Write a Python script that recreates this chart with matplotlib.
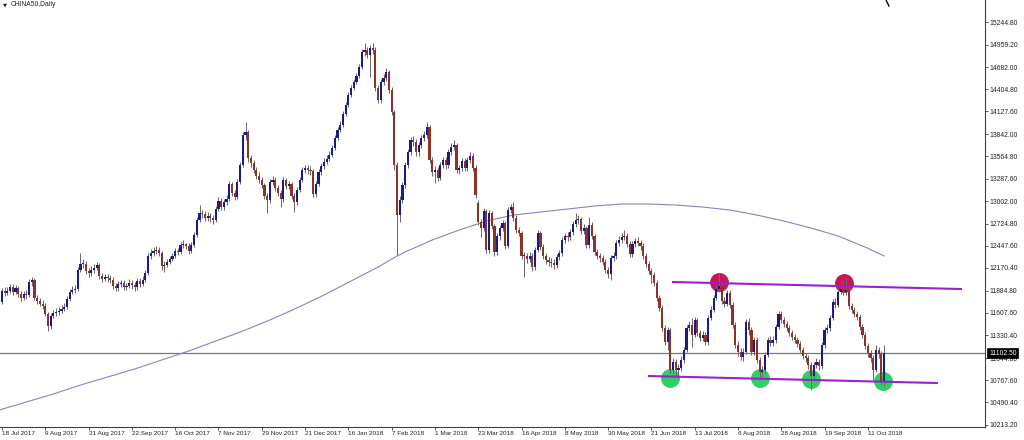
import matplotlib
matplotlib.use("Agg")
import matplotlib.pyplot as plt
import matplotlib.transforms as mtransforms
from matplotlib.lines import Line2D
import numpy as np

# ---------------- data ----------------
symbol_title = "CHINA50,Daily"
date_labels = ["18 Jul 2017", "9 Aug 2017", "31 Aug 2017", "22 Sep 2017", "16 Oct 2017",
               "7 Nov 2017", "29 Nov 2017", "21 Dec 2017", "16 Jan 2018", "7 Feb 2018",
               "1 Mar 2018", "23 Mar 2018", "16 Apr 2018", "8 May 2018", "30 May 2018",
               "21 Jun 2018", "13 Jul 2018", "6 Aug 2018", "28 Aug 2018", "19 Sep 2018",
               "11 Oct 2018"]
price_ticks = [15244.80, 14959.20, 14682.00, 14404.80, 14127.60, 13842.00, 13564.80,
               13287.60, 13002.00, 12724.80, 12447.60, 12170.40, 11884.80, 11607.60,
               11330.40, 11044.80, 10767.60, 10490.40, 10213.20]

closes = [
    11745, 11882, 11857, 11882, 11932, 11870, 11920, 11845, 11795, 11845,
    11832, 11995, 12020, 11795, 11757, 11720, 11695, 11595, 11445, 11570,
    11607, 11620, 11632, 11657, 11682, 11782, 11870, 11895, 11907, 12145,
    12220, 12220, 12132, 12107, 12145, 12170, 12207, 12070, 12032, 12057,
    12045, 12020, 11945, 11920, 11970, 11982, 11932, 11945, 11982, 11957,
    11932, 12007, 11970, 12020, 12107, 12320, 12357, 12382, 12395, 12357,
    12195, 12207, 12245, 12282, 12320, 12382, 12370, 12457, 12470, 12445,
    12382, 12457, 12582, 12770, 12857, 12845, 12795, 12820, 12795, 12770,
    12907, 13007, 12932, 12995, 13032, 13220, 13107, 13057, 13245, 13457,
    13832, 13870, 13545, 13482, 13395, 13320, 13270, 13207, 13070, 13020,
    13245, 13270, 13170, 13107, 13032, 13270, 13195, 13220, 13070, 12995,
    13145, 13270, 13395, 13420, 13395, 13382, 13095, 13220, 13370, 13445,
    13495, 13532, 13582, 13670, 13795, 13895, 13957, 14095, 14207, 14332,
    14420, 14495, 14570, 14682, 14870, 14895, 14832, 14920, 14895, 14420,
    14270, 14495, 14545, 14620, 14395, 14120, 13457, 12832, 13020, 13207,
    13457, 13620, 13770, 13745, 13620, 13707, 13795, 13832, 13932, 13520,
    13370, 13395, 13295, 13457, 13520, 13457, 13620, 13682, 13707, 13395,
    13420, 13507, 13420, 13520, 13570, 13420, 13082, 12745, 12670, 12882,
    12395, 12857, 12695, 12370, 12570, 12670, 12732, 12445, 12895, 12932,
    12795, 12645, 12607, 12320, 12320, 12282, 12320, 12182, 12395, 12607,
    12432, 12320, 12270, 12245, 12232, 12207, 12307, 12357, 12520, 12570,
    12557, 12620, 12720, 12770, 12782, 12632, 12670, 12457, 12707, 12570,
    12370, 12320, 12295, 12245, 12145, 12095, 12295, 12320, 12482, 12520,
    12557, 12570, 12470, 12345, 12470, 12507, 12482, 12445, 12320, 12220,
    12132, 12082, 11982, 11795, 11670, 11420, 11245, 11395, 10895, 10995,
    10895, 10920, 11020, 11145, 11420, 11457, 11332, 11520, 11357, 11295,
    11332, 11245, 11545, 11645, 11795, 11907, 11945, 11757, 11720, 11857,
    11707, 11457, 11207, 11120, 11057, 11120, 11495, 11395, 11120, 11270,
    11020, 10870, 10895, 11082, 11270, 11232, 11270, 11432, 11595, 11520,
    11470, 11420, 11357, 11307, 11270, 11220, 11145, 11070, 11045, 10957,
    10820, 10957, 10995, 10945, 11207, 11395, 11420, 11545, 11745, 11707,
    11870, 11907, 11870, 11895, 11695, 11645, 11595, 11557, 11432, 11332,
    11195, 11107, 11045, 10895, 11145, 11095, 10745, 11102.5]

opens = [
    11820, 11745, 11882, 11857, 11882, 11932, 11870, 11920, 11845, 11795,
    11845, 11832, 11995, 12020, 11795, 11757, 11720, 11695, 11595, 11445,
    11570, 11607, 11620, 11632, 11657, 11682, 11782, 11870, 11895, 11907,
    12145, 12220, 12220, 12132, 12107, 12145, 12170, 12207, 12070, 12032,
    12057, 12045, 12020, 11945, 11920, 11970, 11982, 11932, 11945, 11982,
    11957, 11932, 12007, 11970, 12020, 12107, 12320, 12357, 12382, 12395,
    12357, 12195, 12207, 12245, 12282, 12320, 12382, 12370, 12457, 12470,
    12445, 12382, 12457, 12582, 12770, 12857, 12845, 12795, 12820, 12795,
    12770, 12907, 13007, 12932, 12995, 13032, 13220, 13107, 13057, 13245,
    13457, 13832, 13870, 13545, 13482, 13395, 13320, 13270, 13207, 13070,
    13020, 13245, 13270, 13170, 13107, 13032, 13270, 13195, 13220, 13070,
    12995, 13145, 13270, 13395, 13420, 13395, 13382, 13095, 13220, 13370,
    13445, 13495, 13532, 13582, 13670, 13795, 13895, 13957, 14095, 14207,
    14332, 14420, 14495, 14570, 14682, 14870, 14895, 14832, 14920, 14895,
    14420, 14270, 14495, 14545, 14620, 14395, 14120, 13457, 12832, 13020,
    13207, 13457, 13620, 13770, 13745, 13620, 13707, 13795, 13832, 13932,
    13520, 13370, 13395, 13295, 13457, 13520, 13457, 13620, 13682, 13707,
    13395, 13420, 13507, 13420, 13520, 13570, 13420, 12982, 12745, 12670,
    12882, 12395, 12857, 12695, 12370, 12570, 12670, 12732, 12445, 12895,
    12932, 12795, 12645, 12607, 12320, 12320, 12282, 12320, 12182, 12395,
    12607, 12432, 12320, 12270, 12245, 12232, 12207, 12307, 12357, 12520,
    12570, 12557, 12620, 12720, 12770, 12782, 12632, 12670, 12457, 12707,
    12570, 12370, 12320, 12295, 12245, 12145, 12095, 12295, 12320, 12482,
    12520, 12557, 12570, 12470, 12345, 12470, 12507, 12482, 12445, 12320,
    12220, 12132, 12082, 11982, 11795, 11670, 11420, 11245, 11395, 10895,
    10995, 10895, 10920, 11020, 11145, 11420, 11457, 11332, 11520, 11357,
    11295, 11332, 11245, 11545, 11645, 11795, 11907, 11945, 11757, 11720,
    11857, 11707, 11457, 11207, 11120, 11057, 11120, 11495, 11395, 11120,
    11270, 11020, 10870, 10895, 11082, 11270, 11232, 11270, 11432, 11595,
    11520, 11470, 11420, 11357, 11307, 11270, 11220, 11145, 11070, 11045,
    10957, 10820, 10957, 10995, 10945, 11207, 11395, 11420, 11545, 11745,
    11707, 11870, 11907, 11870, 11895, 11695, 11645, 11595, 11557, 11432,
    11332, 11195, 11107, 11045, 10895, 11145, 11095, 10745]

highs = [
    11895, 11920, 11932, 11932, 11970, 11970, 11957, 11945, 11882, 11882,
    11895, 12032, 12057, 12045, 11832, 11795, 11770, 11732, 11620, 11607,
    11645, 11670, 11682, 11707, 11732, 11820, 11907, 11945, 11957, 12182,
    12357, 12282, 12257, 12170, 12195, 12220, 12245, 12232, 12107, 12095,
    12095, 12082, 12057, 11982, 12007, 12020, 12020, 11982, 12032, 12020,
    11995, 12045, 12045, 12070, 12145, 12357, 12407, 12432, 12445, 12432,
    12382, 12257, 12282, 12320, 12357, 12420, 12420, 12495, 12520, 12482,
    12482, 12495, 12620, 12807, 12957, 12895, 12882, 12870, 12857, 12832,
    12945, 13057, 13045, 13032, 13082, 13257, 13245, 13145, 13282, 13495,
    13870, 13995, 13895, 13582, 13520, 13432, 13370, 13307, 13232, 13107,
    13282, 13320, 13307, 13207, 13145, 13307, 13295, 13257, 13245, 13107,
    13182, 13307, 13432, 13457, 13457, 13445, 13407, 13257, 13407, 13482,
    13545, 13582, 13632, 13707, 13832, 13932, 14007, 14132, 14245, 14370,
    14457, 14532, 14607, 14720, 14907, 14982, 14932, 14957, 14982, 14932,
    14457, 14532, 14595, 14670, 14645, 14432, 14145, 13495, 13070, 13245,
    13495, 13657, 13807, 13820, 13782, 13745, 13832, 13882, 13995, 13957,
    13557, 13445, 13432, 13495, 13557, 13557, 13657, 13732, 13770, 13732,
    13457, 13545, 13545, 13557, 13620, 13607, 13457, 13020, 12782, 12920,
    12907, 12895, 12882, 12720, 12607, 12707, 12770, 12757, 12932, 12970,
    12995, 12832, 12682, 12632, 12370, 12357, 12370, 12357, 12432, 12645,
    12632, 12470, 12357, 12307, 12295, 12282, 12345, 12395, 12557, 12607,
    12620, 12657, 12757, 12857, 12832, 12807, 12720, 12695, 12807, 12745,
    12595, 12407, 12357, 12332, 12282, 12182, 12332, 12370, 12520, 12570,
    12607, 12645, 12607, 12507, 12507, 12545, 12557, 12520, 12482, 12357,
    12257, 12170, 12120, 12020, 11832, 11707, 11457, 11432, 11420, 11045,
    11032, 10970, 11070, 11182, 11457, 11507, 11545, 11557, 11545, 11395,
    11382, 11370, 11582, 11695, 11832, 11957, 12107, 11982, 11807, 11895,
    11895, 11745, 11495, 11257, 11170, 11170, 11532, 11545, 11432, 11307,
    11307, 11057, 10945, 11120, 11307, 11320, 11320, 11470, 11632, 11632,
    11557, 11507, 11457, 11395, 11345, 11307, 11257, 11182, 11107, 11082,
    10995, 10995, 11045, 11032, 11245, 11432, 11470, 11582, 11782, 11795,
    11907, 12020, 12020, 12057, 11932, 11732, 11682, 11632, 11595, 11470,
    11370, 11232, 11145, 11082, 11207, 11182, 11132, 11207]

lows = [
    11695, 11720, 11820, 11832, 11857, 11832, 11845, 11807, 11757, 11770,
    11782, 11807, 11945, 11770, 11720, 11695, 11657, 11570, 11382, 11407,
    11545, 11570, 11582, 11607, 11632, 11657, 11757, 11845, 11857, 11882,
    12120, 12170, 12095, 12057, 12070, 12107, 12145, 12032, 11995, 12007,
    11995, 11982, 11907, 11882, 11882, 11932, 11895, 11895, 11920, 11907,
    11882, 11895, 11932, 11945, 11995, 12082, 12282, 12320, 12345, 12320,
    12145, 12120, 12182, 12220, 12257, 12295, 12332, 12345, 12420, 12407,
    12345, 12357, 12432, 12557, 12745, 12795, 12757, 12757, 12745, 12720,
    12745, 12882, 12895, 12895, 12957, 13007, 13070, 13020, 13032, 13220,
    13432, 13770, 13495, 13432, 13357, 13282, 13232, 13170, 13032, 12857,
    12982, 13207, 13132, 13070, 12932, 12995, 13157, 13157, 13032, 12870,
    12957, 13120, 13245, 13357, 13345, 13332, 13057, 13057, 13195, 13332,
    13407, 13470, 13507, 13557, 13645, 13770, 13870, 13932, 14070, 14182,
    14307, 14395, 14470, 14545, 14657, 14820, 14795, 14557, 14845, 14382,
    14232, 14232, 14457, 14507, 14357, 14082, 13395, 12332, 12745, 12982,
    13170, 13420, 13582, 13695, 13570, 13570, 13670, 13757, 13795, 13482,
    13320, 13232, 13257, 13270, 13420, 13407, 13420, 13582, 13645, 13357,
    13345, 13382, 13382, 13382, 13482, 13382, 13045, 12707, 12557, 12632,
    12357, 12357, 12657, 12320, 12332, 12520, 12632, 12407, 12420, 12857,
    12757, 12607, 12570, 12282, 12057, 12232, 12245, 12132, 12145, 12370,
    12395, 12282, 12220, 12195, 12182, 12157, 12170, 12270, 12320, 12482,
    12507, 12520, 12582, 12682, 12720, 12595, 12595, 12420, 12420, 12532,
    12332, 12282, 12245, 12207, 12107, 12045, 12020, 12257, 12282, 12445,
    12482, 12520, 12432, 12307, 12307, 12432, 12445, 12395, 12282, 12182,
    12095, 11982, 11945, 11757, 11632, 11382, 11207, 11145, 10857, 10845,
    10807, 10795, 10882, 10982, 11120, 11382, 11182, 11307, 11320, 11257,
    11257, 11207, 11207, 11520, 11620, 11770, 11870, 11720, 11682, 11695,
    11670, 11420, 11170, 11070, 11020, 11007, 11095, 11332, 11082, 11082,
    10982, 10770, 10795, 10857, 11057, 11195, 11195, 11232, 11407, 11482,
    11432, 11382, 11320, 11270, 11232, 11182, 11107, 11032, 10995, 10907,
    10645, 10770, 10920, 10895, 10907, 11170, 11357, 11382, 11520, 11670,
    11682, 11845, 11832, 11832, 11657, 11607, 11557, 11520, 11395, 11295,
    11157, 11057, 10995, 10770, 10870, 11045, 10707, 10695]

# 200-day moving average at selected bars
ma_idx = [0, 10, 20, 30, 40, 50, 60, 70, 80, 90, 100, 110, 120, 130, 140, 147, 150,
          160, 170, 180, 190, 200, 210, 220, 230, 240, 250, 260, 270, 280, 290, 300,
          310, 320, 327]
ma_vals = [10395, 10495, 10595, 10707, 10807, 10907, 11020, 11132, 11257, 11382,
           11520, 11670, 11832, 12007, 12182, 12320, 12370, 12520, 12645, 12757,
           12832, 12870, 12907, 12945, 12970, 12970, 12957, 12932, 12895, 12832,
           12757, 12670, 12570, 12432, 12320]

last_price = 11102.50
resist_idx = [248.6, 355.8]
resist_px = [11995, 11907]
support_idx = [239.7, 346.9]
support_px = [10820, 10732]
top_idx = [266.0, 312.3]
top_px = [11999, 11985]
bottom_idx = [247.8, 281.1, 300.0, 326.7]
bottom_px = [10792, 10792, 10782, 10760]

# ---------------- plot ----------------
n = len(closes)
assert len(opens) == n and len(highs) == n and len(lows) == n
idx = np.arange(n)
o = np.array(opens, float)
c = np.array(closes, float)
h = np.array(highs, float)
l = np.array(lows, float)

W, H = 1024, 440
fig = plt.figure(figsize=(W / 100, H / 100), dpi=100)
fig.patch.set_facecolor("white")
ax = fig.add_axes([0, 13 / H, 985 / W, 427 / H])
ax.set_facecolor("white")
ax.set_xlim(0.26, 364.3)
ax.set_ylim(10182.5, 15520)

bull_c = "#1a1a88"
bear_c = "#8c3226"
up = c >= o

# markers behind candles
ax.scatter(top_idx, top_px, s=185, color="#c9145a", zorder=2, linewidths=0)
ax.scatter(bottom_idx, bottom_px, s=185, color="#2fcf68", zorder=2, linewidths=0)

ax.vlines(idx, l, h, color="#6c6c6c", lw=0.75, zorder=3)
body_bot = np.minimum(o, c)
body_h = np.maximum(np.abs(c - o), 8)
ax.bar(idx[up], body_h[up], bottom=body_bot[up], width=0.8, color=bull_c,
       linewidth=0, zorder=4)
ax.bar(idx[~up], body_h[~up], bottom=body_bot[~up], width=0.8, color=bear_c,
       linewidth=0, zorder=4)

ax.plot(ma_idx, ma_vals, color="#8585c2", lw=0.8, zorder=3.5)
ax.axhline(last_price, color="#767676", lw=0.9, zorder=3.2)

ax.plot(resist_idx, resist_px, color="#9b1fd0", lw=1.5, zorder=5, solid_capstyle="butt")
ax.plot(support_idx, support_px, color="#9b1fd0", lw=1.5, zorder=5, solid_capstyle="butt")

# axes styling
for s in ["top", "left"]:
    ax.spines[s].set_visible(False)
for s in ["right", "bottom"]:
    ax.spines[s].set_color("#404040")
    ax.spines[s].set_linewidth(0.8)

font = ["Liberation Sans", "DejaVu Sans"]
fs_y = 4.9
fs_x = 4.6
ax.yaxis.tick_right()
ax.set_yticks(price_ticks)
ax.set_yticklabels(["%.2f" % v for v in price_ticks], fontsize=fs_y, family=font,
                   color="#222222")
ax.tick_params(axis="y", length=2.2, width=0.6, pad=1.2, colors="#404040",
               labelcolor="#222222")

xt = [1 + 16 * k for k in range(len(date_labels))]
ax.set_xticks(xt)
ax.set_xticklabels(date_labels, fontsize=fs_x, family=font, ha="left", color="#222222")
ax.tick_params(axis="x", length=2.2, width=0.6, pad=1.0, colors="#404040",
               labelcolor="#222222")

trans = mtransforms.blended_transform_factory(ax.transAxes, ax.transData)
ax.text(1.004, last_price, "%.2f" % last_price, transform=trans, ha="left", va="center",
        fontsize=fs_y, family=font, color="white", zorder=10, clip_on=False,
        bbox=dict(boxstyle="square,pad=0.22", fc="black", ec="black", lw=0.5))

fig.text(3 / W, 1 - 5 / H, "\u25bc", fontsize=3.8, family="DejaVu Sans",
         color="#222222", va="center", ha="left")
fig.text(11 / W, 1 - 5 / H, symbol_title, fontsize=fs_y, family=font,
         color="#222222", va="center", ha="left")
fig.add_artist(Line2D([886 / W, 889 / W], [1.0, 1 - 6 / H], transform=fig.transFigure,
                      color="black", lw=1.0))

fig.savefig("out.png", dpi=100, facecolor="white")
